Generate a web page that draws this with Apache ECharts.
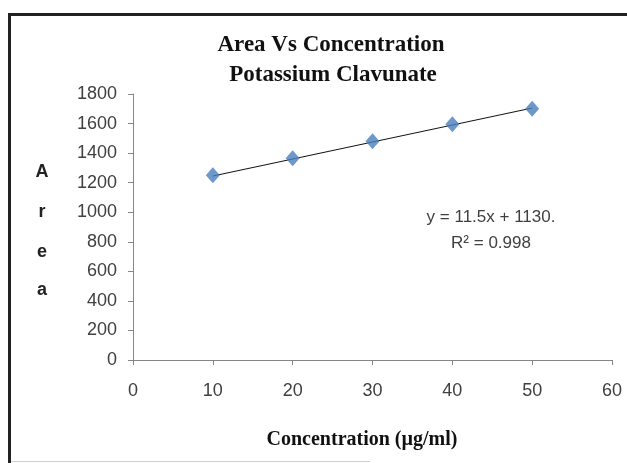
<!DOCTYPE html>
<html><head><meta charset="utf-8">
<script src="https://cdn.jsdelivr.net/npm/echarts@6/dist/echarts.min.js"></script>
<style>html,body{margin:0;padding:0;background:#fff}#c{width:627px;height:463px}</style>
</head><body><div id="c"></div>
<script>
const concentrations = [10, 20, 30, 40, 50];
const areas = [1250, 1365, 1480, 1595, 1700];
const trendX = [10, 50];
const slope = 11.5, intercept = 1130;
const titleLines = ['Area Vs Concentration', 'Potassium Clavunate'];
const xAxisName = 'Concentration (µg/ml)';
const yAxisLetters = ['A', 'r', 'e', 'a'];
const equationText = 'y = 11.5x + 1130.';
const r2Text = 'R² = 0.998';

const chart = echarts.init(document.getElementById('c'), null, {renderer: 'canvas'});
const pts = concentrations.map((x, i) => [x, areas[i]]);
const trend = trendX.map(x => [x, slope * x + intercept]);
const tickFont = {fontFamily: 'Liberation Sans', fontSize: 18, color: '#404040'};

const graphics = [
  {type: 'line', shape: {x1: 9.5, y1: 13, x2: 9.5, y2: 463}, style: {stroke: '#222', lineWidth: 3}},
  {type: 'line', shape: {x1: 8, y1: 14.5, x2: 627, y2: 14.5}, style: {stroke: '#222', lineWidth: 3}},
  {type: 'line', shape: {x1: 11, y1: 461.5, x2: 370, y2: 461.5}, style: {stroke: '#cfcfcf', lineWidth: 1}},
  {type: 'text', x: 331, y: 45, style: {text: titleLines[0], font: 'bold 23px "Liberation Serif"', fill: '#111', align: 'center', verticalAlign: 'middle'}},
  {type: 'text', x: 333, y: 75, style: {text: titleLines[1], font: 'bold 23px "Liberation Serif"', fill: '#111', align: 'center', verticalAlign: 'middle'}},
  {type: 'text', x: 362, y: 440, style: {text: xAxisName, font: 'bold 20px "Liberation Serif"', fill: '#111', align: 'center', verticalAlign: 'middle'}},
  {type: 'text', x: 491, y: 217, style: {text: equationText, font: '17px "Liberation Sans"', fill: '#404040', align: 'center', verticalAlign: 'middle'}},
  {type: 'text', x: 491, y: 243, style: {text: r2Text, font: '17px "Liberation Sans"', fill: '#404040', align: 'center', verticalAlign: 'middle'}}
];
const letterYs = [172, 212, 252, 290];
yAxisLetters.forEach((ch, i) => {
  graphics.push({type: 'text', x: 42, y: letterYs[i], style: {text: ch, font: 'bold 18px "Liberation Sans"', fill: '#222', align: 'center', verticalAlign: 'middle'}});
});

chart.setOption({
  backgroundColor: '#fff',
  animation: false,
  grid: {left: 133, top: 94, right: 15, bottom: 103, containLabel: false},
  xAxis: {
    type: 'value', min: 0, max: 60, interval: 10,
    axisLine: {lineStyle: {color: '#868686'}},
    axisTick: {show: true, length: 5, lineStyle: {color: '#868686'}},
    splitLine: {show: false},
    axisLabel: Object.assign({margin: 22, formatter: v => String(v)}, tickFont)
  },
  yAxis: {
    type: 'value', min: 0, max: 1800, interval: 200,
    axisLine: {show: true, lineStyle: {color: '#868686'}},
    axisTick: {show: true, length: 5, lineStyle: {color: '#868686'}},
    splitLine: {show: false},
    axisLabel: Object.assign({margin: 16, formatter: v => String(v)}, tickFont)
  },
  series: [
    {type: 'line', data: trend, symbol: 'none', lineStyle: {color: '#111', width: 1}, z: 2},
    {type: 'scatter', data: pts, symbol: 'diamond', symbolSize: [14, 16], itemStyle: {color: '#4A7EBB'}, z: 3}
  ],
  graphic: graphics
});
</script></body></html>
